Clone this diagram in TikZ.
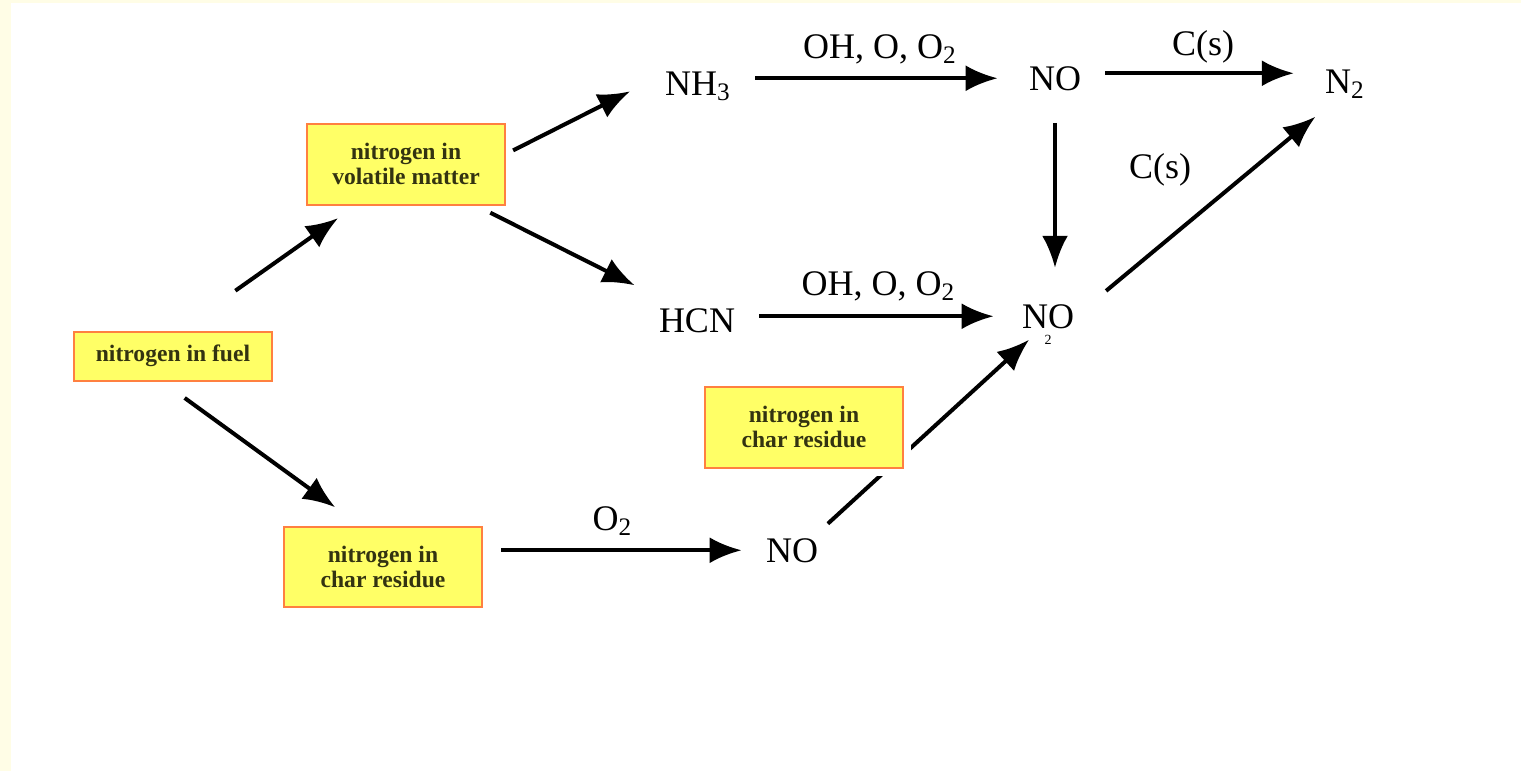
\documentclass[tikz,border=0pt]{standalone}
\usepackage{fontspec}
\setmainfont{Liberation Serif}
\usepackage{xcolor}
\usepackage{tikz}
\usetikzlibrary{arrows.meta,calc,positioning}
\definecolor{bgcream}{RGB}{255,253,230}
\definecolor{boxfill}{RGB}{255,255,102}
\definecolor{boxline}{RGB}{255,128,64}
\definecolor{boxtext}{RGB}{51,51,17}

\begin{document}
\begin{tikzpicture}[x=0.5pt,y=-0.5pt,
  nbox/.style={draw=boxline,line width=1pt,fill=boxfill,text=boxtext,
    font=\fontsize{11.8}{12.3}\selectfont\bfseries,align=center,minimum width=99pt,inner sep=0pt},
  spec/.style={font=\fontsize{18}{20}\selectfont,inner xsep=12pt,inner ysep=3pt,anchor=base},
  rxn/.style={font=\fontsize{18}{20}\selectfont,inner sep=2pt},
  arr/.style={-{Latex[length=16pt,width=13pt]},line width=2pt,black}]
 \useasboundingbox (0,0) rectangle (1521,771);
 \fill[bgcream] (0,0) rectangle (1521,771);
 \fill[white] (11,3) rectangle (1521,771);

 % boxes
 \node[nbox,minimum height=24.5pt] (fuel) at (173,356) {nitrogen in fuel};
 \node[nbox,minimum height=40.5pt] (volat) at (406,164) {nitrogen in\\volatile matter};
 \node[nbox,minimum height=40pt] (charlow) at (383,567) {nitrogen in\\char residue};

 % species
 \node[spec] (nh3) at (698,95) {NH\textsubscript{3}};
 \node[spec] (notop) at (1055,90) {NO};
 \node[spec] (ntwo) at (1345,93) {N\textsubscript{2}};
 \node[spec] (hcn) at (697,332) {HCN};
 \node[spec] (nomid) at (1048,328) {N\smash{\makebox[0pt]{\raisebox{-1.0ex}{\fontsize{7}{7}\selectfont 2}}}O};
 \node[spec] (nolow) at (792,562) {NO};

 \draw[arr,shorten <=34.5pt,shorten >=11pt] ([xshift=3pt]fuel.north) -- ([xshift=-25pt]volat.south);
 \draw[arr,shorten <=14pt,shorten >=16pt] ([xshift=-5.5pt]fuel.south) -- ([xshift=-11pt]charlow.north);
 \draw[arr,shorten <=4pt,shorten >=6pt] ([yshift=5pt]volat.east) -- (nh3.west);
 \draw[arr,shorten <=8pt] ([xshift=35pt]volat.south) -- ([yshift=17.5pt]hcn.west);
 \draw[arr,shorten >=3.5pt] (notop.west -| nh3.east) -- (notop.west)
   node[rxn,midway,above=4pt] {OH, O, O\textsubscript{2}};
 \draw[arr,shorten >=3.5pt] ([yshift=2.5pt]notop.east) -- ([yshift=2.5pt]notop.east -| ntwo.west)
   node[rxn,midway,above=2pt] {C(s)};
 \draw[arr,shorten <=13pt,shorten >=15pt] (notop.south) -- (notop.south |- nomid.north);
 \draw[arr,shorten >=2pt] (hcn.east |- nomid.west) -- (nomid.west)
   node[rxn,midway,above=4.5pt] {OH, O, O\textsubscript{2}};
 \draw[arr,shorten <=5pt,shorten >=9.5pt] ([yshift=9.5pt]nomid.east) -- ([xshift=-7.5pt]ntwo.south)
   node[rxn,pos=.5,anchor=south east,xshift=-8.5pt,yshift=4.5pt] {C(s)};
 \draw[arr,shorten <=9pt] (nolow.west -| charlow.east) -- (nolow.west)
   node[rxn,midway,above=4.5pt] {O\textsubscript{2}};
 \draw[arr,shorten <=6pt,shorten >=3.7pt] ([xshift=13.5pt]nolow.north) -- ([xshift=-6.75pt]nomid.south);

 \node[nbox,minimum height=40.5pt,preaction={draw=white,line width=8pt}] (charmid) at (804,427) {nitrogen in\\char residue};
\end{tikzpicture}
\end{document}
